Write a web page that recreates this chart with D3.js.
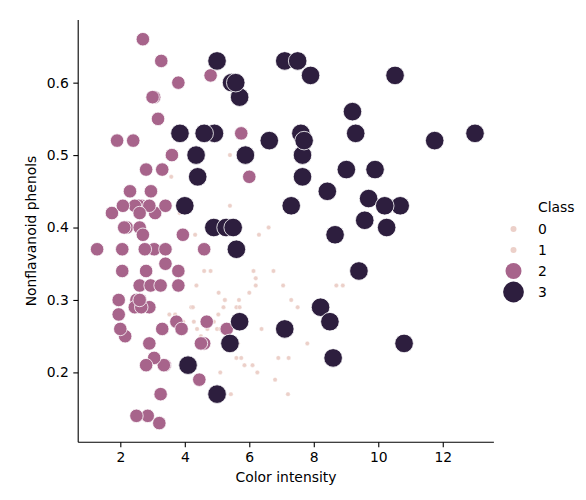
<!DOCTYPE html>
<html>
<head>
<meta charset="utf-8">
<script src="https://cdn.jsdelivr.net/npm/d3@7"></script>
<style>
  body { margin: 0; background: #fff; }
  text { font-family: "DejaVu Sans", sans-serif; fill: #000; }
</style>
</head>
<body>
<div id="chart"></div>
<script>
const width = 586;
const height = 500;

// class 1 samples: colour intensity / nonflavanoid phenols
const class1Color = [5.64,4.38,5.68,7.8,4.32,6.75,5.25,5.05,5.2,7.22,5.75,5,5.6,5.4,7.5,7.3,6.2,6.6,8.7,5.1,
  5.65,4.5,3.8,3.93,3.52,3.58,4.8,3.95,4.5,4.7,5.7,6.9,3.84,5.4,4.2,5.1,4.6,4.25,3.7,5.1,
  6.13,4.28,5.43,4.36,5.04,5.24,4.9,6.1,6.2,8.9,7.2,5.6,7.05,6.3,5.85,6.25,6.38,6,6.8];
const class1Nonflav = [.28,.26,.3,.24,.39,.34,.3,.31,.29,.22,.22,.26,.29,.43,.29,.3,.33,.4,.32,.17,
  .24,.25,.27,.26,.28,.47,.34,.27,.37,.26,.29,.22,.42,.5,.29,.26,.34,.29,.28,.2,
  .34,.27,.17,.32,.28,.3,.27,.21,.32,.32,.17,.22,.32,.39,.21,.2,.26,.31,.19];

// class 2 samples
const class2Color = [1.95,3.27,5.75,3.8,4.45,2.95,4.6,5.3,4.68,3.17,2.85,3.05,3.38,3.74,3.35,3.21,3.8,4.6,2.65,3.4,
  2.57,2.5,3.9,2.2,4.8,3.05,2.62,2.45,2.6,2.8,1.74,2.4,3.6,3.05,2.15,3.25,2.6,2.5,2.9,4.5,
  2.3,3.3,2.45,2.8,2.06,2.94,2.7,3.4,3.3,2.7,2.65,2.9,2,3.8,3.08,2.9,1.9,1.95,2.06,3.4,
  1.28,3.25,6,2.08,2.6,2.8,2.76,3.94,3,2.12,2.6];
const class2Nonflav = [.28,.63,.53,.32,.19,.45,.37,.26,.27,.55,.14,.37,.21,.27,.21,.13,.34,.24,.43,.35,
  .43,.3,.26,.4,.61,.22,.3,.43,.4,.48,.42,.52,.5,.58,.25,.17,.32,.14,.29,.24,
  .45,.26,.29,.34,.37,.32,.66,.37,.48,.39,.29,.24,.26,.6,.42,.43,.52,.3,.34,.43,
  .37,.32,.47,.43,.3,.21,.37,.39,.58,.4,.42];

// class 3 samples
const class3Color = [4.1,5.4,5.7,5,5.45,7.1,3.85,5,5.7,4.92,4.6,5.6,4.35,4.4,8.21,4,4.9,7.65,8.42,9.4,
  8.6,10.8,7.1,10.52,7.6,7.9,9.01,7.5,13,11.75,7.65,5.88,5.58,5.28,9.58,6.62,10.68,10.26,8.66,8.5,
  5.5,9.9,9.7,7.7,7.3,10.2,9.3,9.2];
const class3Nonflav = [.21,.24,.27,.17,.6,.63,.53,.63,.58,.53,.53,.37,.5,.47,.29,.43,.4,.47,.45,.34,
  .22,.24,.26,.61,.53,.61,.48,.63,.53,.52,.5,.5,.6,.4,.41,.52,.43,.4,.39,.27,
  .4,.48,.44,.52,.43,.43,.53,.56];

const legendLevels = [0, 1, 2, 3];
const xTicks = [2, 4, 6, 8, 10, 12];
const yTicks = [0.2, 0.3, 0.4, 0.5, 0.6];

// build rows in dataset order
let rows = [];
class1Color.forEach((c, i) => rows.push({ x: c, y: class1Nonflav[i], k: 1 }));
class2Color.forEach((c, i) => rows.push({ x: c, y: class2Nonflav[i], k: 2 }));
class3Color.forEach((c, i) => rows.push({ x: c, y: class3Nonflav[i], k: 3 }));

const svg = d3.select("#chart")
  .append("svg")
  .attr("width", width)
  .attr("height", height);

const x = d3.scaleLinear().domain([0.694, 13.586]).range([78.2, 493.9]);
const y = d3.scaleLinear().domain([0.1035, 0.6865]).range([442.3, 20]);

// class -> colour / radius (clipped at class 1 like the legend)
const color = d3.scaleLinear()
  .domain([1, 2, 3])
  .range(["#ecd0c9", "#a7648b", "#2d1e3e"])
  .clamp(true);
const area = d3.scaleLinear().domain([1, 3]).range([20, 345]).clamp(true);
const radius = k => Math.sqrt(area(k)) / 2;

// axes
const xAxis = svg.append("g")
  .attr("transform", "translate(0,442.3)")
  .call(d3.axisBottom(x).tickValues(xTicks).tickSize(4.9).tickPadding(4.5).tickFormat(d3.format("d")));
const yAxis = svg.append("g")
  .attr("transform", "translate(78.2,0)")
  .call(d3.axisLeft(y).tickValues(yTicks).tickSize(4.9).tickPadding(4.5).tickFormat(d3.format(".1f")));

[xAxis, yAxis].forEach(a => {
  a.select(".domain").attr("stroke", "#000").attr("stroke-width", 1.1);
  a.selectAll(".tick line").attr("stroke", "#000").attr("stroke-width", 1.1);
  a.selectAll(".tick text").attr("font-size", "13.9px").attr("font-family", "DejaVu Sans").attr("fill", "#000");
});
// matplotlib spine runs full length, d3 outer ticks off
xAxis.select(".domain").attr("d", "M78.2,0H493.9");
yAxis.select(".domain").attr("d", "M0,442.3V20");

svg.append("text")
  .attr("x", 286).attr("y", 482)
  .attr("text-anchor", "middle")
  .attr("font-size", "13.9px")
  .text("Color intensity");

svg.append("text")
  .attr("transform", "translate(36,231) rotate(-90)")
  .attr("text-anchor", "middle")
  .attr("font-size", "13.9px")
  .text("Nonflavanoid phenols");

// points
svg.append("g")
  .selectAll("circle")
  .data(rows)
  .join("circle")
  .attr("cx", d => x(d.x))
  .attr("cy", d => y(d.y))
  .attr("r", d => radius(d.k))
  .attr("fill", d => color(d.k))
  .attr("stroke", "#fff")
  .attr("stroke-width", d => d.k === 1 ? 0.4 : 0.8);

// legend
const legend = svg.append("g");
legend.append("text")
  .attr("x", 538).attr("y", 212)
  .attr("font-size", "13.9px")
  .text("Class");

const legendY = d3.scalePoint().domain(legendLevels).range([229, 292]);
const legendR = d3.scaleOrdinal().domain(legendLevels).range([3, 3, 8, 10.4]);

legend.selectAll("circle")
  .data(legendLevels)
  .join("circle")
  .attr("cx", 513.5)
  .attr("cy", d => legendY(d))
  .attr("r", d => legendR(d))
  .attr("fill", d => color(d));

legend.selectAll("text.lbl")
  .data(legendLevels)
  .join("text")
  .attr("class", "lbl")
  .attr("x", 538)
  .attr("y", d => legendY(d) + 5)
  .attr("font-size", "13.9px")
  .text(d => d);
</script>
</body>
</html>
